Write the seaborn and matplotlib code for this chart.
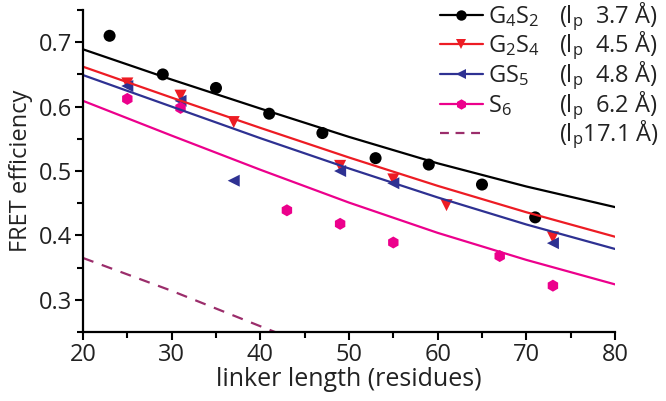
import numpy as np
import pandas as pd
import matplotlib
matplotlib.use("Agg")
import matplotlib.pyplot as plt
from matplotlib.lines import Line2D
from matplotlib.ticker import MultipleLocator
import seaborn as sns

# measured FRET efficiencies
g4s2_x = [23, 29, 35, 41, 47, 53, 59, 65, 71]
g4s2_y = [0.710, 0.650, 0.629, 0.589, 0.559, 0.520, 0.510, 0.479, 0.428]
g2s4_x = [25, 31, 37, 49, 55, 61, 73]
g2s4_y = [0.636, 0.617, 0.576, 0.508, 0.487, 0.447, 0.397]
gs5_x = [25, 31, 37, 49, 55, 73]
gs5_y = [0.632, 0.609, 0.485, 0.500, 0.481, 0.388]
s6_x = [25, 31, 43, 49, 55, 67, 73]
s6_y = [0.612, 0.598, 0.439, 0.418, 0.389, 0.368, 0.322]

# fitted curves
fit_x = [20, 30, 40, 50, 60, 70, 80]
fit_g4s2 = [0.689, 0.642, 0.597, 0.553, 0.512, 0.476, 0.444]
fit_g2s4 = [0.662, 0.614, 0.567, 0.521, 0.477, 0.436, 0.398]
fit_gs5 = [0.649, 0.600, 0.551, 0.504, 0.459, 0.417, 0.379]
fit_s6 = [0.609, 0.555, 0.502, 0.451, 0.404, 0.362, 0.324]
dash_x = [20, 30, 40, 50]
dash_y = [0.365, 0.314, 0.259, 0.205]

names = [r"G$_4$S$_2$", r"G$_2$S$_4$", r"GS$_5$", r"S$_6$"]
lp_labels = [r"(l$_\mathrm{p}$  3.7 Å)", r"(l$_\mathrm{p}$  4.5 Å)",
             r"(l$_\mathrm{p}$  4.8 Å)", r"(l$_\mathrm{p}$  6.2 Å)",
             r"(l$_\mathrm{p}$17.1 Å)"]
colors = ["#000000", "#ed1c24", "#2e3192", "#ec008c"]
markers = ["o", "v", "<", "h"]
dash_color = "#9b2d6b"
text_color = "#222222"

sns.set_style("ticks")
plt.rcParams["font.family"] = ["Open Sans", "DejaVu Sans"]
plt.rcParams["mathtext.fontset"] = "custom"
plt.rcParams["mathtext.rm"] = "Open Sans"
plt.rcParams["mathtext.it"] = "Open Sans:italic"

points = [(g4s2_x, g4s2_y), (g2s4_x, g2s4_y), (gs5_x, gs5_y), (s6_x, s6_y)]
fits = [fit_g4s2, fit_g2s4, fit_gs5, fit_s6]

fig = plt.figure(figsize=(6.66, 4.01), dpi=100)
ax = fig.add_axes([0.1246, 0.172, 0.7988, 0.803])

for (px, py), fy, c, m in zip(points, fits, colors, markers):
    sns.lineplot(x=fit_x, y=fy, color=c, lw=1.6, ax=ax)
    sns.scatterplot(x=px, y=py, color=c, marker=m, s=75, edgecolor="none", ax=ax)
sns.lineplot(x=dash_x, y=dash_y, color=dash_color, lw=1.6, ax=ax)
ax.lines[-1].set_dashes([5, 4])

ax.set_xlim(20, 80)
ax.set_ylim(0.25, 0.75)
ax.xaxis.set_major_locator(MultipleLocator(10))
ax.xaxis.set_minor_locator(MultipleLocator(5))
ax.yaxis.set_major_locator(MultipleLocator(0.1))
ax.yaxis.set_minor_locator(MultipleLocator(0.05))
ax.set_yticks([0.3, 0.4, 0.5, 0.6, 0.7])
ax.tick_params(which="major", length=6, width=1.5, labelsize=17, pad=2,
               color="black", labelcolor=text_color)
ax.tick_params(which="minor", length=4, width=1.5, color="black")
for s in ["top", "right"]:
    ax.spines[s].set_visible(False)
for s in ["left", "bottom"]:
    ax.spines[s].set_linewidth(1.6)
    ax.spines[s].set_color("black")

ax.set_xlabel("linker length (residues)", fontsize=18, labelpad=0, color=text_color)
ax.set_ylabel("FRET efficiency", fontsize=17, labelpad=4, color=text_color)

# legend: handles + names, then persistence lengths aligned on the same baselines
handles = [Line2D([], [], color=c, marker=m, lw=1.6, markersize=7.5, markeredgewidth=0)
           for c, m in zip(colors, markers)]
handles.append(Line2D([], [], color=dash_color, lw=1.6, dashes=[4, 3]))
leg = ax.legend(handles, names + [names[0]], loc="upper left",
                bbox_to_anchor=(440 / 666, 397 / 401), bbox_transform=fig.transFigure,
                frameon=False, fontsize=17, handlelength=1.8, handletextpad=0.22,
                labelspacing=0.2, borderpad=0, borderaxespad=0)
texts = leg.get_texts()
for t in texts:
    t.set_color(text_color)
texts[-1].set_alpha(0)

fig.canvas.draw()
inv = fig.transFigure.inverted()
for t, lab in zip(texts, lp_labels):
    bx, by = t.get_transform().transform(t.get_position())
    fx, fy = inv.transform((bx, by))
    fig.text(559 / 666, fy, lab, fontsize=17, va="baseline", ha="left", color=text_color)

fig.savefig("out.png", dpi=100)
